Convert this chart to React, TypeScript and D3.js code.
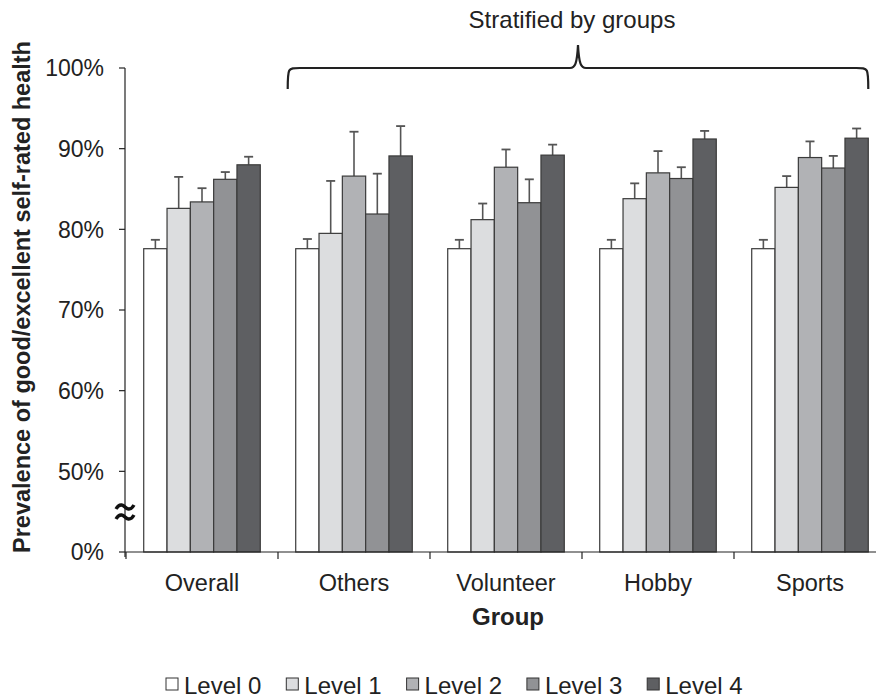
import React from "react";
import * as d3 from "d3";

// groups along the x axis and the five participation levels
const groups = ["Overall", "Others", "Volunteer", "Hobby", "Sports"];
const levels = ["Level 0", "Level 1", "Level 2", "Level 3", "Level 4"];

// prevalence (%) per level, one value per group
const level0 = [77.6, 77.6, 77.6, 77.6, 77.6];
const level1 = [82.6, 79.5, 81.2, 83.8, 85.2];
const level2 = [83.4, 86.6, 87.7, 87.0, 88.9];
const level3 = [86.2, 81.9, 83.3, 86.3, 87.6];
const level4 = [88.0, 89.1, 89.2, 91.2, 91.3];

// upper end of the error bars
const upper0 = [78.7, 78.8, 78.7, 78.7, 78.7];
const upper1 = [86.5, 86.0, 83.2, 85.7, 86.6];
const upper2 = [85.1, 92.1, 89.9, 89.7, 90.9];
const upper3 = [87.1, 86.9, 86.2, 87.7, 89.1];
const upper4 = [89.0, 92.8, 90.5, 92.2, 92.5];

// broken axis: the bottom tick stands for 0%
const yTicks = [40, 50, 60, 70, 80, 90, 100];
const yTickLabels = ["0%", "50%", "60%", "70%", "80%", "90%", "100%"];

const colors = ["#ffffff", "#dcdddf", "#b1b2b5", "#919295", "#5e5f62"];

const values = [level0, level1, level2, level3, level4];
const uppers = [upper0, upper1, upper2, upper3, upper4];

const W = 876;
const H = 697;
const left = 125;
const bottom = 552;
const font = "Liberation Sans, Arial, Helvetica, sans-serif";

export default function App() {
  const x0 = d3.scaleBand().domain(groups).range([left + 1, left + 1 + 152 * 5]);
  const x1 = d3
    .scaleBand()
    .domain(levels)
    .range([0, x0.bandwidth()])
    .paddingOuter(0.76);
  const y = d3.scaleLinear().domain([40, 100]).range([bottom, 68]);

  const bw = x1.bandwidth();

  // bracket over the stratified groups
  const bl = x0("Others")! + x1("Level 0")! - 8;
  const br = x0("Sports")! + x1("Level 4")! + bw;
  const bm = (bl + br) / 2;
  const by = 68;
  const bracket =
    `M${bl},89 C${bl},${by} ${bl},${by} ${bl + 12},${by} ` +
    `L${bm - 8},${by} C${bm - 3},${by} ${bm - 1},${by - 4} ${bm},${by - 23} ` +
    `C${bm + 1},${by - 4} ${bm + 3},${by} ${bm + 8},${by} ` +
    `L${br - 12},${by} C${br},${by} ${br},${by} ${br},89`;

  const tilde = (cx: number, cy: number) =>
    `M${cx - 9},${cy + 2} C${cx - 5},${cy - 5} ${cx - 1},${cy - 1} ${cx},${cy} ` +
    `C${cx + 1},${cy + 1} ${cx + 5},${cy + 5} ${cx + 9},${cy - 2}`;

  return (
    <svg
      width={W}
      height={H}
      style={{ position: "absolute", left: 0, top: 0, background: "#fff" }}
      fontFamily={font}
    >
      {/* bars and error bars */}
      {groups.map((g, gi) => (
        <g key={g} transform={`translate(${x0(g)},0)`}>
          {levels.map((l, li) => {
            const v = values[li][gi];
            const u = uppers[li][gi];
            const cx = x1(l)! + bw / 2;
            return (
              <g key={l}>
                <line x1={cx} x2={cx} y1={y(v)} y2={y(u)} stroke="#555" strokeWidth={1.6} />
                <line x1={cx - 4.5} x2={cx + 4.5} y1={y(u)} y2={y(u)} stroke="#555" strokeWidth={1.8} />
                <rect
                  x={x1(l)}
                  y={y(v)}
                  width={bw}
                  height={bottom - y(v)}
                  fill={colors[li]}
                  stroke="#3a3a3a"
                  strokeWidth={1.2}
                />
              </g>
            );
          })}
        </g>
      ))}

      {/* y axis */}
      <line x1={left} x2={left} y1={y(100)} y2={bottom + 5} stroke="#222" strokeWidth={1.2} />
      {yTicks.map((t, i) => (
        <g key={t}>
          <line x1={left - 6} x2={left} y1={y(t)} y2={y(t)} stroke="#222" strokeWidth={1.2} />
          <text x={104} y={y(t)} dy="0.36em" textAnchor="end" fontSize={23} fill="#222">
            {yTickLabels[i]}
          </text>
        </g>
      ))}
      <path d={tilde(left, 507)} fill="none" stroke="#111" strokeWidth={3.4} />
      <path d={tilde(left, 517)} fill="none" stroke="#111" strokeWidth={3.4} />

      {/* x axis */}
      <line x1={left} x2={W} y1={bottom} y2={bottom} stroke="#222" strokeWidth={1.2} />
      {groups.map((g) => (
        <g key={g}>
          <line x1={x0(g)} x2={x0(g)} y1={bottom} y2={bottom + 7} stroke="#222" strokeWidth={1.2} />
          <text
            x={x0(g)! + x0.bandwidth() / 2}
            y={591}
            textAnchor="middle"
            fontSize={23.5}
            fill="#222"
          >
            {g}
          </text>
        </g>
      ))}

      <text x={508} y={625} textAnchor="middle" fontSize={24} fontWeight="bold" fill="#222">
        Group
      </text>
      <text
        transform={`translate(30,297) rotate(-90)`}
        textAnchor="middle"
        fontSize={23.5}
        fontWeight="bold"
        fill="#222"
      >
        Prevalence of good/excellent self-rated health
      </text>

      {/* bracket and its label */}
      <path d={bracket} fill="none" stroke="#222" strokeWidth={2.2} />
      <text x={bm - 6} y={28} textAnchor="middle" fontSize={24} fill="#222">
        Stratified by groups
      </text>

      {/* legend */}
      {levels.map((l, i) => (
        <g key={l} transform={`translate(${166 + i * 120.3},678)`}>
          <rect x={0} y={0} width={12} height={12} fill={colors[i]} stroke="#333" strokeWidth={1} />
          <text x={18} y={15.5} fontSize={24} fill="#222">
            {l}
          </text>
        </g>
      ))}
    </svg>
  );
}
